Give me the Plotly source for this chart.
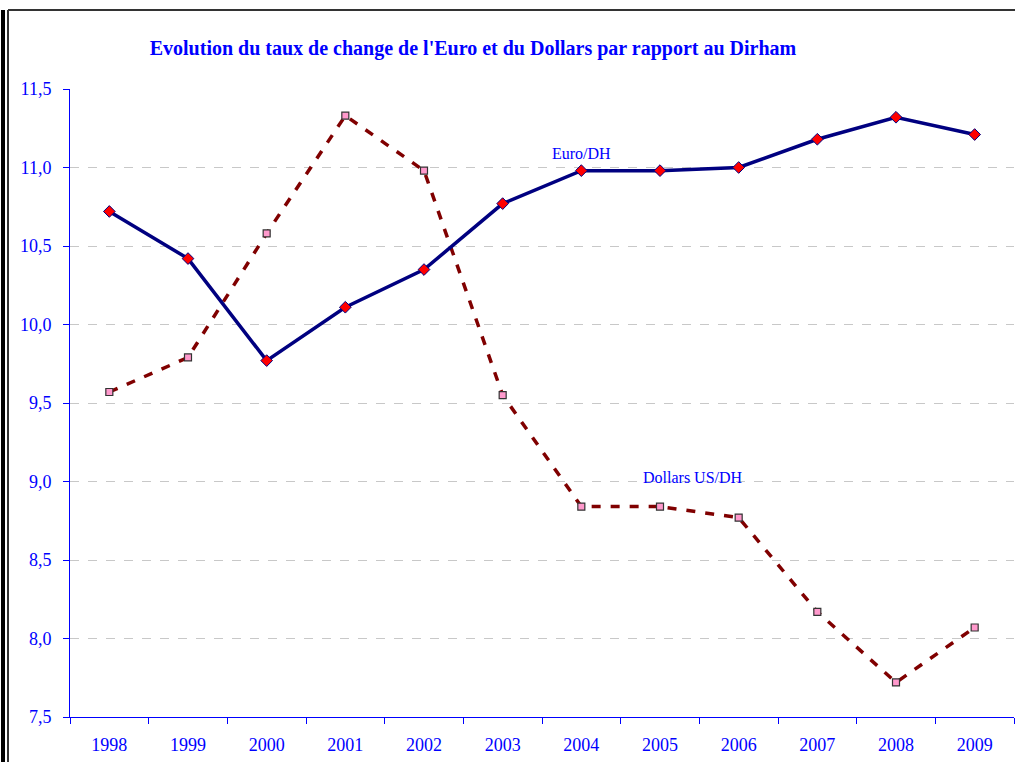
import plotly.graph_objects as go

years = ["1998", "1999", "2000", "2001", "2002", "2003", "2004", "2005", "2006", "2007", "2008", "2009"]
euro_dh = [10.72, 10.42, 9.77, 10.11, 10.35, 10.77, 10.98, 10.98, 11.00, 11.18, 11.32, 11.21]
dollar_dh = [9.57, 9.79, 10.58, 11.33, 10.98, 9.55, 8.84, 8.84, 8.77, 8.17, 7.72, 8.07]
y_ticks = [7.5, 8.0, 8.5, 9.0, 9.5, 10.0, 10.5, 11.0, 11.5]

W, H = 1015, 762
L, R, T, B = 70, 1, 89, 45
pw, ph = W - L - R, H - T - B


def px(x):
    return (x - L) / pw


def py(y):
    return (H - B - y) / ph


SERIF = "Liberation Serif, Times New Roman, serif"
BLUE = "#0000FF"

fig = go.Figure()
fig.add_trace(go.Scatter(
    x=years, y=dollar_dh, mode="lines+markers", name="Dollars US/DH",
    line=dict(color="#800000", width=3.5, dash="9px,10px"),
    marker=dict(symbol="square", size=7, color="#FF99CC", line=dict(color="#333333", width=1.2)),
))
fig.add_trace(go.Scatter(
    x=years, y=euro_dh, mode="lines+markers", name="Euro/DH",
    line=dict(color="#000080", width=3.5),
    marker=dict(symbol="diamond", size=9, color="#FF0000", line=dict(color="#000080", width=1)),
))

fig.update_layout(
    width=W, height=H,
    margin=dict(l=L, r=R, t=T, b=B, pad=0),
    paper_bgcolor="white", plot_bgcolor="white",
    showlegend=False,
    separators=", ",
    font=dict(family=SERIF, color=BLUE, size=18),
    title=dict(
        text="<b>Evolution du taux de change de l'Euro et du Dollars par rapport au Dirham</b>",
        font=dict(family=SERIF, size=20, color=BLUE),
        xref="paper", x=px(473), xanchor="center",
        yref="container", y=1 - 48 / H, yanchor="middle",
    ),
    xaxis=dict(
        type="category", categoryorder="array", categoryarray=years,
        range=[-0.5, len(years) - 0.5],
        tickson="boundaries", ticks="outside", ticklen=6, tickcolor=BLUE, tickwidth=1,
        ticklabelstandoff=11,
        showline=True, linecolor=BLUE, linewidth=1,
        showgrid=False, zeroline=False,
        tickfont=dict(family=SERIF, size=18, color=BLUE),
    ),
    yaxis=dict(
        range=[7.5, 11.5], tickvals=y_ticks, tickformat=".1f",
        ticks="outside", ticklen=6, tickcolor=BLUE, tickwidth=1,
        ticklabelstandoff=8,
        showline=True, linecolor=BLUE, linewidth=1,
        showgrid=True, gridcolor="#C8C8C8", griddash="dash", gridwidth=1,
        zeroline=False,
        tickfont=dict(family=SERIF, size=18, color=BLUE),
    ),
    annotations=[
        dict(text="Euro/DH", xref="paper", yref="paper", x=px(581), y=py(143),
             showarrow=False, font=dict(family=SERIF, size=16, color=BLUE)),
        dict(text="Dollars US/DH", xref="paper", yref="paper", x=px(693), y=py(477),
             showarrow=False, font=dict(family=SERIF, size=16, color=BLUE)),
    ],
    shapes=[
        dict(type="line", xref="paper", yref="paper", x0=px(8), x1=px(W), y0=py(10), y1=py(10),
             line=dict(color="#333333", width=2), layer="above"),
        dict(type="line", xref="paper", yref="paper", x0=px(8), x1=px(8), y0=py(10), y1=py(H),
             line=dict(color="#333333", width=2), layer="above"),
        dict(type="rect", xref="paper", yref="paper", x0=px(1), x1=px(5), y0=py(10), y1=py(H),
             line=dict(width=0), fillcolor="black", layer="above"),
    ],
)

fig.write_html("out.html", config={"displayModeBar": False},
               post_script="document.body.style.margin='0';")
